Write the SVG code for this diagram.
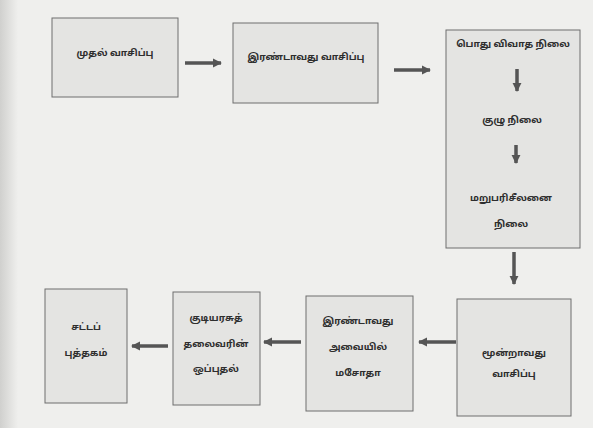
<svg xmlns="http://www.w3.org/2000/svg" width="593" height="428" viewBox="0 0 593 428">
<style>
.box{fill:#e4e4e2;stroke:#6e6e6e;stroke-width:1}
.t{font-family:"Noto Sans Tamil","Noto Sans","Liberation Sans",sans-serif;font-size:9.5px;font-weight:bold;fill:#2e2e2e;text-anchor:middle}
.c{stroke:#555;stroke-width:3.5;fill:none}
</style>
<defs>
<marker id="ah" viewBox="0 0 10 10" refX="9" refY="5" markerWidth="2.6" markerHeight="2.6" orient="auto" markerUnits="strokeWidth">
<path d="M0,0 L10,5 L0,10 z" fill="#555"/>
</marker>
<linearGradient id="lg" x1="0" x2="1" y1="0" y2="0">
<stop offset="0" stop-color="#d0d0ce"/>
<stop offset="1" stop-color="#efefed"/>
</linearGradient>
</defs>
<rect x="0" y="0" width="593" height="428" fill="#efefed"/>
<rect x="0" y="0" width="18" height="428" fill="url(#lg)"/>
<g id="n1"><rect class="box" x="52" y="18" width="126" height="79"/><text class="t" x="115" y="56">முதல் வாசிப்பு</text></g>
<g id="n2"><rect class="box" x="233" y="23" width="145" height="80"/><text class="t" x="306" y="60">இரண்டாவது வாசிப்பு</text></g>
<g id="n3"><rect class="box" x="446" y="30" width="134" height="218"/>
<text class="t" x="513" y="47">பொது விவாத நிலை</text>
<text class="t" x="512" y="123">குழு நிலை</text>
<text class="t" x="511" y="201">மறுபரிசீலனை</text>
<text class="t" x="511" y="227">நிலை</text></g>
<g id="n4"><rect class="box" x="457" y="299" width="114" height="117"/>
<text class="t" x="514" y="356">மூன்றாவது</text>
<text class="t" x="514" y="377">வாசிப்பு</text></g>
<g id="n5"><rect class="box" x="306" y="296" width="107" height="115"/>
<text class="t" x="358" y="324">இரண்டாவது</text>
<text class="t" x="358" y="350">அவையில்</text>
<text class="t" x="358" y="376">மசோதா</text></g>
<g id="n6"><rect class="box" x="173" y="292" width="87" height="113"/>
<text class="t" x="216" y="321">குடியரசுத்</text>
<text class="t" x="216" y="347">தலைவரின்</text>
<text class="t" x="216" y="372">ஒப்புதல்</text></g>
<g id="n7"><rect class="box" x="45" y="289" width="82" height="114"/>
<text class="t" x="86" y="330">சட்டப்</text>
<text class="t" x="86" y="356">புத்தகம்</text></g>
<g id="connectors">
<line class="c" x1="185" y1="63" x2="221" y2="63" marker-end="url(#ah)"/>
<line class="c" x1="394" y1="70" x2="430" y2="70" marker-end="url(#ah)"/>
<line class="c" x1="517" y1="69" x2="517" y2="91" marker-end="url(#ah)"/>
<line class="c" x1="516" y1="145" x2="516" y2="163" marker-end="url(#ah)"/>
<line class="c" x1="514" y1="252" x2="514" y2="284" marker-end="url(#ah)"/>
<line class="c" x1="456" y1="342" x2="419" y2="342" marker-end="url(#ah)"/>
<line class="c" x1="301" y1="342" x2="264" y2="342" marker-end="url(#ah)"/>
<line class="c" x1="168" y1="346" x2="132" y2="346" marker-end="url(#ah)"/>
</g>
</svg>
